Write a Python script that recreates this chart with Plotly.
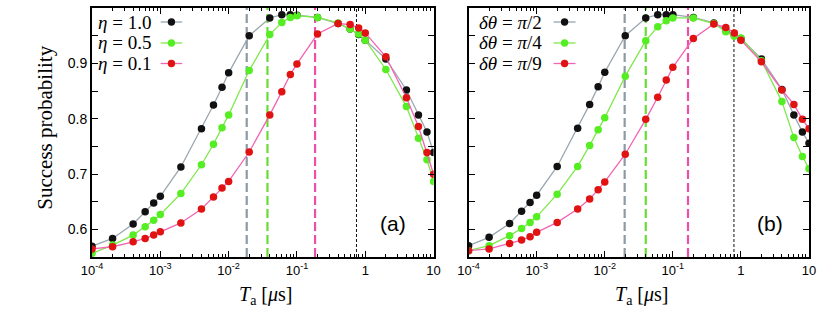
import plotly.graph_objects as go

# ---------------- data ----------------
T_a = [1e-4, 2e-4, 4e-4, 6e-4, 8e-4, 1e-3, 2e-3, 4e-3, 6e-3, 8e-3, 1e-2, 2e-2, 4e-2,
       6e-2, 8e-2, 1e-1, 2e-1, 4e-1, 6e-1, 8e-1, 1, 2, 4, 6, 8, 10]

# panel (a): eta series
eta_labels = ["<i>η</i> = 1.0", "<i>η</i> = 0.5", "<i>η</i> = 0.1"]
eta_10 = [0.570, 0.584, 0.610, 0.632, 0.648, 0.660, 0.713, 0.782, 0.825, 0.857, 0.883, 0.950, 0.982,
          0.988, 0.988, 0.987, 0.983, 0.972, 0.962, 0.952, 0.942, 0.908, 0.852, 0.807, 0.776, 0.739]
eta_05 = [0.557, 0.572, 0.590, 0.605, 0.617, 0.627, 0.665, 0.717, 0.754, 0.784, 0.807, 0.887, 0.952,
          0.974, 0.983, 0.986, 0.983, 0.973, 0.962, 0.953, 0.942, 0.889, 0.822, 0.765, 0.726, 0.687]
eta_01 = [0.565, 0.569, 0.578, 0.584, 0.590, 0.596, 0.612, 0.637, 0.659, 0.675, 0.687, 0.740, 0.807,
          0.849, 0.880, 0.899, 0.953, 0.972, 0.970, 0.964, 0.955, 0.912, 0.838, 0.786, 0.739, 0.700]
vlines_a = [0.0184, 0.037, 0.184, 0.743]

# panel (b): delta-theta series
dth_labels = ["<i>δθ</i> = <i>π</i>/2", "<i>δθ</i> = <i>π</i>/4", "<i>δθ</i> = <i>π</i>/9"]
dth_2 = [0.571, 0.586, 0.611, 0.633, 0.649, 0.662, 0.714, 0.783, 0.826, 0.858, 0.884, 0.950, 0.982,
         0.988, 0.988, 0.988, 0.983, 0.973, 0.960, 0.951, 0.945, 0.908, 0.853, 0.807, 0.776, 0.756]
dth_4 = [0.562, 0.571, 0.589, 0.602, 0.613, 0.623, 0.664, 0.714, 0.752, 0.780, 0.802, 0.877, 0.941,
         0.966, 0.977, 0.982, 0.982, 0.972, 0.957, 0.949, 0.946, 0.905, 0.831, 0.766, 0.732, 0.710]
dth_9 = [0.562, 0.565, 0.575, 0.581, 0.587, 0.595, 0.613, 0.637, 0.655, 0.672, 0.686, 0.736, 0.799,
         0.839, 0.870, 0.893, 0.945, 0.971, 0.965, 0.955, 0.942, 0.903, 0.852, 0.826, 0.799, 0.782]
vlines_b = [0.0196, 0.040, 0.167, 0.79]

x_tickvals = [1e-4, 1e-3, 1e-2, 1e-1, 1, 10]
x_ticktext = ["10<sup>-4</sup>", "10<sup>-3</sup>", "10<sup>-2</sup>", "10<sup>-1</sup>", "1", "10"]
y_tickvals = [0.55, 0.6, 0.65, 0.7, 0.75, 0.8, 0.85, 0.9, 0.95, 1.0]
y_ticktext = ["", "0.6", "", "0.7", "", "0.8", "", "0.9", "", "1.0"]

# ---------------- styles / geometry ----------------
marker_cols = ["#111111", "#55ee22", "#e01212"]
line_cols = ["#9aa6b0", "#7ee84c", "#f264b4"]
vline_cols = ["#8c9aa6", "#66dd33", "#ee4ea6", "#111111"]
vline_dash = ["9px,4px", "9px,4px", "9px,4px", "3px,2px"]
vline_w = [2.2, 2.2, 2.2, 1]

SERIF = "Liberation Serif, DejaVu Serif, serif"
SANS = "Liberation Sans, Arial, sans-serif"

W, H = 817, 309
L, R, T, B = 92.3, 809.5, 8, 257          # plot-area pixel box
PW, PH = R - L, B - T


def px(xpix):
    return (xpix - L) / PW


def py(ypix):
    return (B - ypix) / PH


fig = go.Figure()

panels = [
    ("x", "y", [eta_10, eta_05, eta_01], eta_labels, vlines_a),
    ("x2", "y2", [dth_2, dth_4, dth_9], dth_labels, vlines_b),
]
for xa, ya, series, labels, vls in panels:
    for j, v in enumerate(vls):
        fig.add_shape(type="line", xref=xa, yref=ya + " domain", x0=v, x1=v, y0=0, y1=1,
                      line=dict(color=vline_cols[j], width=vline_w[j], dash=vline_dash[j]),
                      layer="below")
    for i, ys in enumerate(series):
        fig.add_trace(go.Scatter(
            x=T_a, y=ys, xaxis=xa, yaxis=ya, mode="lines+markers", name=labels[i],
            line=dict(color=line_cols[i], width=1.3),
            marker=dict(color=marker_cols[i], size=7.5, line=dict(width=0)),
            showlegend=False))

minor_vals = [m * 10 ** e for e in range(-4, 1) for m in range(2, 10)]

common_x = dict(type="log", range=[-4, 1], tickvals=x_tickvals, ticktext=x_ticktext,
                ticks="inside", ticklen=6, tickwidth=1, tickcolor="black",
                minor=dict(tickvals=minor_vals, ticks="inside", ticklen=3, tickcolor="black"),
                showline=True, linecolor="black", linewidth=2, mirror="ticks",
                showgrid=False, zeroline=False, automargin=False,
                tickfont=dict(family=SANS, size=13, color="black"))
common_y = dict(range=[0.5505, 1.0], tickvals=y_tickvals, ticktext=y_ticktext,
                ticks="inside", ticklen=6, tickwidth=1, tickcolor="black",
                showline=True, linecolor="black", linewidth=2, mirror="ticks",
                showgrid=False, zeroline=False, automargin=False,
                tickfont=dict(family=SANS, size=14, color="black"))

fig.update_layout(
    width=W, height=H, margin=dict(l=L, r=W - R, t=T, b=H - B, autoexpand=False),
    paper_bgcolor="white", plot_bgcolor="white", showlegend=False,
    xaxis=dict(domain=[0, px(434)], anchor="y", **common_x),
    xaxis2=dict(domain=[px(469), 1], anchor="y2", **common_x),
    yaxis=dict(domain=[0, 1], anchor="x", **common_y),
    yaxis2=dict(domain=[0, 1], anchor="x2", showticklabels=False, **common_y),
)

# axis titles
fig.add_annotation(xref="paper", yref="paper", x=px(45), y=py(128), text="Success probability",
                   textangle=-90, showarrow=False, xanchor="center", yanchor="middle",
                   font=dict(family=SERIF, size=21, color="black"))
for xc in [266, 642]:
    fig.add_annotation(xref="paper", yref="paper", x=px(xc), y=py(295),
                       text="<i>T</i><sub>a</sub> [<i>μ</i>s]",
                       showarrow=False, xanchor="center", yanchor="middle",
                       font=dict(family=SERIF, size=20, color="black"))

# legend (symbol to the right of the text, as in the original)
legend_rows = [22, 43, 63.5]
leg_specs = [
    (eta_labels, 153.5, 161, 182.5),
    (dth_labels, 544.5, 554, 576),
]
for labels, txt_right, l0, l1 in leg_specs:
    for i, lab in enumerate(labels):
        yp = py(legend_rows[i])
        fig.add_annotation(xref="paper", yref="paper", x=px(txt_right), y=yp, text=lab,
                           showarrow=False, xanchor="right", yanchor="middle",
                           font=dict(family=SERIF, size=19, color="black"))
        fig.add_shape(type="line", xref="paper", yref="paper", x0=px(l0), x1=px(l1),
                      y0=yp, y1=yp, line=dict(color=line_cols[i], width=1.3))
        cx, cy, r = (l0 + l1) / 2, legend_rows[i], 3.7
        fig.add_shape(type="circle", xref="paper", yref="paper",
                      x0=px(cx - r), x1=px(cx + r), y0=py(cy + r), y1=py(cy - r),
                      fillcolor=marker_cols[i], line=dict(width=0))

for txt, xc in [("(a)", 393), ("(b)", 770)]:
    fig.add_annotation(xref="paper", yref="paper", x=px(xc), y=py(223), text=txt,
                       showarrow=False, xanchor="center", yanchor="middle",
                       font=dict(family=SANS, size=21, color="black"))

fig.write_html(
    "out.html",
    config={"displayModeBar": False},
    post_script="document.documentElement.style.margin='0';"
                "document.body.style.margin='0';document.body.style.overflow='hidden';")
